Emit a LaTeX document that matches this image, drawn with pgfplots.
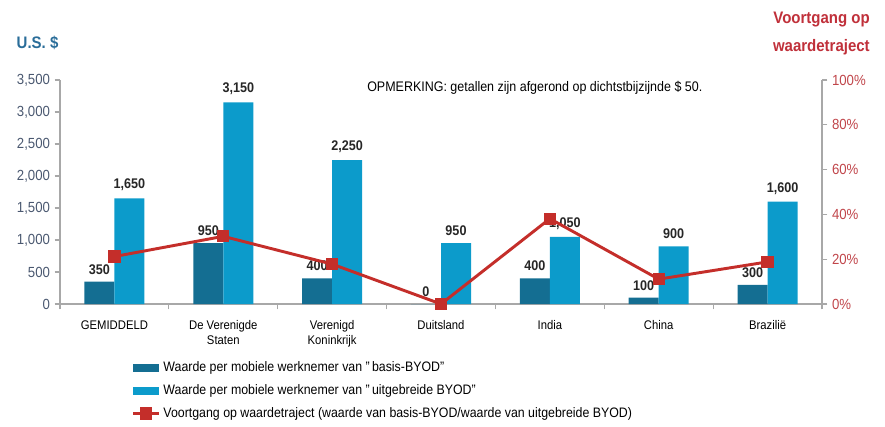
\documentclass[border=0pt]{standalone}
\usepackage{pgfplots}
\pgfplotsset{compat=1.18}
\usepackage{fontspec}
\setmainfont{Liberation Sans}[FakeStretch=0.9]
\definecolor{darkbar}{HTML}{146E92}
\definecolor{lightbar}{HTML}{0C9BCB}
\definecolor{redline}{HTML}{C42E2A}
\definecolor{axgray}{HTML}{A8A8A8}
\definecolor{lefttick}{HTML}{4A5870}
\definecolor{righttick}{HTML}{C0454A}
\definecolor{ustitle}{HTML}{2A6D99}
\definecolor{rtitle}{HTML}{C0303A}
\pgfplotsset{
  barlegend/.style={legend image code/.code={\fill[##1] (0pt,-3pt) rectangle (19.5pt,3pt);}},
  linelegend/.style={legend image code/.code={\draw[mark repeat=2,mark phase=2,##1] plot coordinates {(0pt,0pt) (9.75pt,0pt) (19.5pt,0pt)};}},
}
\pgfplotstableread{
x basis uitgebreid ratio
0 350 1650 21.2
1 950 3150 30.2
2 400 2250 17.8
3 0 950 0
4 400 1050 38.1
5 100 900 11.1
6 300 1600 18.8
}\data
\begin{document}
\begin{tikzpicture}[x=0.75pt,y=0.75pt]
\path[use as bounding box] (-60,-122) rectangle (825,304);
\begin{axis}[
  at={(0,0)}, anchor=south west,
  scale only axis, width=571.5pt, height=168pt,
  xmin=-0.5, xmax=6.5, ymin=0, ymax=3500,
  axis x line=bottom, axis y line=left,
  axis line style={-, draw=axgray, line width=0.8pt},
  ybar=0pt, bar width=22.5pt,
  xtick={0,...,6},
  xticklabels={GEMIDDELD,{De Verenigde\\Staten},{Verenigd\\Koninkrijk},Duitsland,India,China,Brazilië},
  x tick label style={font=\fontsize{9.4}{11}\selectfont, align=center, text=black, yshift=-5pt},
  major x tick style={draw=none},
  minor xtick={-0.5,0.5,...,6.5},
  minor x tick style={draw=axgray, line width=0.8pt},
  minor tick length=4pt,
  ytick={0,500,...,3500},
  y tick label style={font=\fontsize{11}{12}\selectfont, text=lefttick},
  major y tick style={draw=axgray, line width=0.8pt},
  major tick length=4pt,
  tick align=outside,
  /pgf/number format/.cd, 1000 sep={,}, assume math mode=true, /pgfplots/.cd,
  nodes near coords,
  every node near coord/.append style={font=\bfseries\fontsize{10.5}{12}\selectfont, text=black!85, yshift=2pt},
]
\addplot[fill=darkbar, draw=none] table[x=x, y=basis] {\data};
\addplot[fill=lightbar, draw=none] table[x=x, y=uitgebreid] {\data};
\end{axis}
\begin{axis}[
  at={(0,0)}, anchor=south west,
  scale only axis, width=571.5pt, height=168pt,
  xmin=-0.5, xmax=6.5, ymin=0, ymax=100,
  axis x line=none, axis y line=right,
  axis line style={-, draw=axgray, line width=0.8pt},
  ytick={0,20,...,100},
  yticklabel={\pgfmathprintnumber{\tick}\%},
  y tick label style={font=\fontsize{11}{12}\selectfont, text=righttick},
  major y tick style={draw=axgray, line width=0.8pt},
  major tick length=4pt, tick align=outside,
  /pgf/number format/assume math mode=true,
  legend style={at={(0.094,-0.245)}, anchor=north west, draw=none, fill=none,
    font=\fontsize{10.3}{12}\selectfont, cells={anchor=west}, row sep=4.2pt,
    inner sep=0pt},
]
\addlegendimage{fill=darkbar, draw=none, barlegend}
\addlegendentry{Waarde per mobiele werknemer van "\,basis-BYOD"}
\addlegendimage{fill=lightbar, draw=none, barlegend}
\addlegendentry{Waarde per mobiele werknemer van "\,uitgebreide BYOD"}
\addplot[redline, line width=2.2pt, mark=square*, mark size=4.2pt, mark options={fill=redline, draw=redline, line width=0pt}, linelegend] table[x=x, y=ratio] {\data};
\addlegendentry{Voortgang op waardetraject (waarde van basis-BYOD/waarde van uitgebreide BYOD)}
\end{axis}
\node[anchor=west, font=\bfseries\fontsize{12.5}{14}\selectfont, text=ustitle] at (-48,261) {U.S. \$};
\node[anchor=north east, align=right, font=\bfseries\fontsize{12.5}{20.5}\selectfont, text=rtitle, inner sep=0pt] at (810,292) {Voortgang op\\waardetraject};
\node[anchor=west, font=\fontsize{10.4}{12}\selectfont, inner sep=0pt] at (307,216) {OPMERKING: getallen zijn afgerond op dichtstbijzijnde \$ 50.};
\end{tikzpicture}
\end{document}
